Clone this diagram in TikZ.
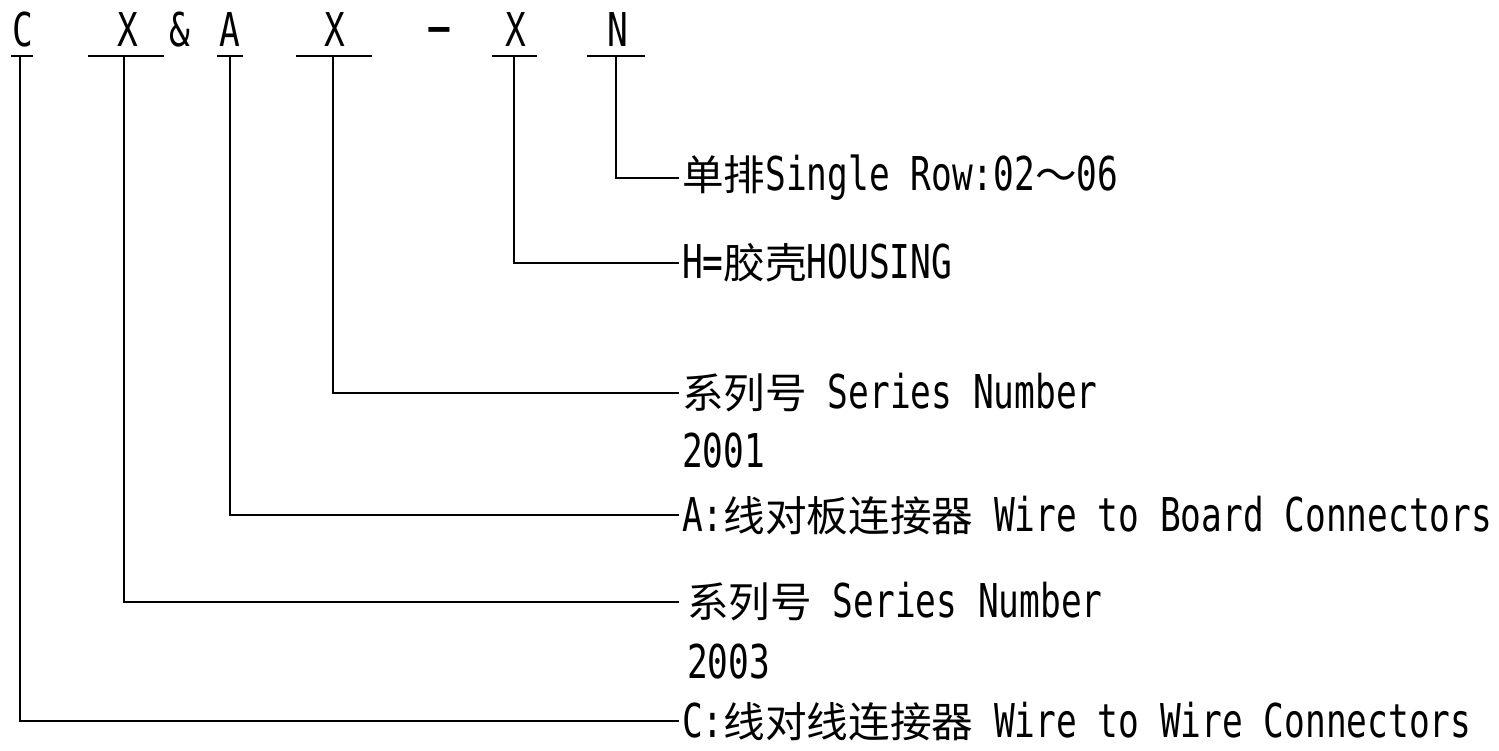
\documentclass[tikz,border=0pt]{standalone}
\usepackage{fontspec}
\setmainfont{DejaVu Sans Mono}[Scale=1.12,FakeStretch=0.74]
\newfontfamily\cjk{Noto Sans CJK SC}
\begin{document}
\begin{tikzpicture}[x=1pt,y=-1pt,
  every node/.style={font=\fontsize{41.6}{50}\selectfont, inner sep=0pt, text=black},
  lead/.style={line width=1.8pt, black},
  lbl/.style={anchor=west, inner xsep=3pt}]
\useasboundingbox (0,0) rectangle (1499,750);
% top code letters
\node[anchor=base] (c)   at (23,46)  {C};
\node[anchor=base] (x1)  at (128,46) {X};
\node[anchor=base] (amp) at (180,46) {\&};
\node[anchor=base] (a)   at (230,46) {A};
\node[anchor=base] (x2)  at (335,46) {X};
\node[anchor=base] (dsh) at (439,46) {\scalebox{2.4}[1.3]{-}};
\node[anchor=base] (x3)  at (516,46) {X};
\node[anchor=base] (n)   at (618,46) {N};
% underlines
\draw[lead] (11,56) -- (33,56);
\draw[lead] (88,56) -- (164,56);
\draw[lead] (217,56) -- (243,56);
\draw[lead] (296,56) -- (372,56);
\draw[lead] (492,56) -- (537,56);
\draw[lead] (587,56) -- (645,56);
% stem tops
\coordinate (sc)  at (20,56);
\coordinate (sx1) at (124,56);
\coordinate (sa)  at (230,56);
\coordinate (sx2) at (333,56);
\coordinate (sx3) at (514,56);
\coordinate (sn)  at (616,56);
% labels
\node[lbl] (ln)  at (679,178) {{\cjk 单排}Single Row:02{\cjk ～}06};
\node[lbl] (lh)  at (679,263) {H={\cjk 胶壳}HOUSING};
\node[lbl] (ls1) at (679,393) {{\cjk 系列号} Series Number};
\node[lbl] (y1)  at (679,451) {2001};
\node[lbl] (la)  at (679,515) {A:{\cjk 线对板连接器} Wire to Board Connectors};
\node[lbl, inner xsep=8pt] (ls2) at (679,602) {{\cjk 系列号} Series Number};
\node[lbl] (y2)  at (684,662) {2003};
\node[lbl] (lc)  at (679,721) {C:{\cjk 线对线连接器} Wire to Wire Connectors};
% connectors
\draw[lead] (sn)  |- (ln.west);
\draw[lead] (sx3) |- (lh.west);
\draw[lead] (sx2) |- (ls1.west);
\draw[lead] (sa)  |- (la.west);
\draw[lead] (sx1) |- (ls2.west);
\draw[lead] (sc)  |- (lc.west);
\end{tikzpicture}
\end{document}
